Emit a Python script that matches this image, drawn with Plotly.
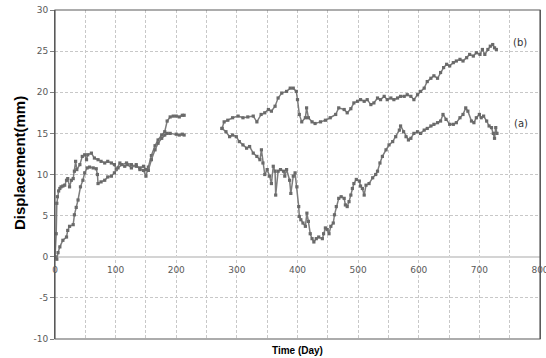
import plotly.graph_objects as go

# Series (b): first segment (days, mm)
days_b1 = [0, 2, 3, 4, 6, 8, 10, 13, 16, 19, 21, 24, 27, 30, 32, 34, 36, 41, 45, 49, 52, 54, 60, 65,
           71, 76, 82, 87, 93, 98, 101, 107, 115, 120, 126, 134, 140, 146, 150, 154, 159, 165, 170,
           176, 181, 185, 190, 195, 200, 205, 210, 213]
disp_b1 = [0, 2.8, 6.5, 7.3, 8.0, 8.3, 8.5, 8.6, 8.7, 9.3, 9.5, 8.5, 9.3, 9.5, 10.4, 11.6, 10.6, 11.2,
           12.2, 12.4, 11.8, 12.4, 12.6, 12.0, 11.8, 11.6, 11.4, 11.6, 11.4, 11.2, 10.6, 11.4, 11.0,
           11.2, 10.8, 11.2, 10.6, 10.5, 9.8, 10.9, 12.3, 13.5, 14.2, 14.8, 15.2, 16.5, 17.0, 17.1,
           17.1, 17.0, 17.2, 17.2]

# Series (b): second segment
days_b2 = [275.5, 279, 285, 293, 302, 310, 318, 327, 333, 340, 346, 352, 357, 363, 368, 374, 382,
           388, 393, 398, 400, 403, 407, 413, 415, 418, 424, 429, 438, 446, 454, 463, 468, 477, 482,
           488, 493, 499, 504, 510, 515, 521, 526, 532, 537, 543, 548, 554, 559, 565, 570, 576, 581,
           587, 592, 598, 603, 609, 614, 620, 625, 631, 636, 641, 646, 651, 657, 662, 668, 673, 679,
           684, 690, 695, 701, 705, 709, 714, 718, 722, 725, 728]
disp_b2 = [15.6, 16.4, 16.6, 16.9, 17.1, 16.9, 17.0, 17.1, 16.4, 17.3, 17.5, 17.9, 17.7, 18.3, 19.3,
           19.9, 20.1, 20.5, 20.5, 20.1, 19.1, 17.3, 16.4, 16.9, 18.1, 16.9, 16.4, 16.2, 16.4, 16.6,
           16.9, 17.3, 18.1, 17.9, 17.5, 18.0, 18.7, 18.9, 19.1, 18.9, 19.1, 18.5, 18.7, 19.3, 19.1,
           19.5, 19.1, 19.3, 19.1, 19.3, 19.5, 19.5, 19.7, 19.5, 19.1, 19.7, 20.1, 20.5, 21.3, 21.7,
           22.0, 21.7, 22.4, 23.0, 23.4, 23.2, 23.6, 23.8, 24.0, 23.8, 24.2, 24.6, 24.4, 24.8, 24.6,
           25.2, 24.6, 25.2, 25.6, 25.8, 25.4, 25.2]

# Series (a): first segment
days_a1 = [0, 3, 5, 8, 13, 19, 21, 24, 30, 32, 35, 38, 42, 46, 49, 53, 57, 63, 68, 70, 71, 76, 82,
           87, 93, 98, 104, 110, 118, 126, 134, 140, 146, 150, 154, 159, 165, 170, 176, 181, 185,
           190, 200, 205, 210, 213]
disp_a1 = [0, -0.3, 0.5, 1.2, 2.0, 2.4, 3.2, 3.7, 3.9, 5.1, 6.0, 6.9, 8.5, 9.3, 10.2, 10.8, 10.9,
           10.8, 10.7, 10.0, 8.9, 9.1, 9.3, 9.7, 9.8, 10.2, 10.8, 11.2, 11.4, 11.2, 11.0, 10.8, 11.0,
           10.6, 10.5, 11.8, 13.0, 13.8, 14.4, 14.8, 15.0, 15.0, 14.9, 14.8, 14.9, 14.8]

# Series (a): second segment
days_a2 = [275.5, 282, 288, 293, 299, 304, 310, 316, 321, 327, 333, 338, 340.5, 343, 346, 350, 354,
           357, 360, 363, 364, 368, 372, 377, 379, 382, 387, 389, 393, 396, 399, 402, 403, 405.5,
           409, 413, 415.5, 418, 421, 424, 427, 431, 435, 441, 443, 446, 449, 452, 455, 459, 461,
           464, 468, 472, 477, 479, 482, 485, 488, 490.5, 493, 497, 502, 504, 507, 510, 513, 518,
           524, 529, 532, 536, 540, 546, 551, 557, 562, 568, 570, 575, 579, 583, 587, 592, 598, 603,
           609, 614, 620, 625, 631, 636, 640, 645, 651, 657, 662, 668, 673, 677.5, 681, 687, 691,
           695, 700, 703, 707, 712, 716, 720, 723, 725, 727, 729]
disp_a2 = [15.6, 15.2, 14.6, 14.8, 14.6, 14.0, 13.6, 13.2, 13.4, 12.6, 12.2, 11.8, 13.0, 11.4, 10.0,
           10.6, 9.8, 8.9, 11.0, 10.4, 7.5, 10.4, 10.6, 10.4, 9.8, 10.6, 9.3, 7.7, 9.8, 10.2, 8.5,
           6.1, 4.9, 4.5, 4.1, 3.7, 5.3, 4.3, 2.8, 2.2, 1.8, 2.2, 2.4, 2.2, 2.8, 3.5, 3.3, 2.8, 3.7,
           4.1, 5.1, 6.1, 7.1, 7.3, 7.1, 6.3, 6.1, 6.7, 7.5, 8.3, 8.9, 9.4, 9.2, 8.6, 8.3, 7.5, 8.7,
           8.9, 9.6, 10.0, 10.4, 11.4, 12.2, 13.0, 13.6, 14.0, 14.6, 15.4, 15.9, 15.2, 14.6, 14.2,
           14.4, 15.0, 15.2, 15.0, 15.4, 15.6, 15.9, 16.1, 16.3, 16.5, 17.3, 16.7, 16.1, 16.1, 16.3,
           16.9, 17.3, 18.1, 17.7, 16.5, 16.3, 16.9, 17.3, 16.9, 17.1, 16.5, 15.9, 15.7, 15.0, 14.4,
           15.7, 15.0]

x_ticks = [0, 100, 200, 300, 400, 500, 600, 700, 800]
y_ticks = [-10, -5, 0, 5, 10, 15, 20, 25, 30]
curve_labels = [("(b)", 767, 26.0), ("(a)", 769, 16.2)]

LINE = "#7c7c7c"
MARK = "#6a6a6a"

W, H = 546, 358
L, R, T, B = 55, 6, 10, 19


def px_to_paper(x, y):
    return (x - L) / (W - L - R), 1 - (y - T) / (H - T - B)


fig = go.Figure()
for xs, ys in [(days_b1 + [None] + days_b2, disp_b1 + [None] + disp_b2),
               (days_a1 + [None] + days_a2, disp_a1 + [None] + disp_a2)]:
    fig.add_trace(go.Scatter(
        x=xs, y=ys, mode="lines+markers", connectgaps=False,
        line=dict(color=LINE, width=1.5),
        marker=dict(color=MARK, size=3.2, symbol="square"),
        showlegend=False, hoverinfo="skip"))

for txt, x, y in curve_labels:
    fig.add_annotation(x=x, y=y, xref="x", yref="y", text=txt, showarrow=False,
                       xanchor="center", yanchor="middle",
                       font=dict(family="DejaVu Sans", size=10, color="#333333"))

ax, ay = px_to_paper(20, 163)
fig.add_annotation(x=ax, y=ay, xref="paper", yref="paper", text="<b>Displacement(mm)</b>",
                   showarrow=False, textangle=-90, xanchor="center", yanchor="middle",
                   font=dict(family="Liberation Sans", size=15, color="#000000"))
ax, ay = px_to_paper(297.5, 351)
fig.add_annotation(x=ax, y=ay, xref="paper", yref="paper", text="<b>Time (Day)</b>",
                   showarrow=False, xanchor="center", yanchor="middle",
                   font=dict(family="Liberation Sans", size=10, color="#000000"))

fig.update_layout(
    width=W, height=H,
    margin=dict(l=L, r=R, t=T, b=B, autoexpand=False),
    plot_bgcolor="white", paper_bgcolor="white",
    xaxis=dict(range=[0, 800], tickvals=x_ticks, ticktext=[str(v) for v in x_ticks],
               anchor="free", position=0.25, showline=False, zeroline=False, automargin=False,
               showgrid=True, gridcolor="#c8c8c8", griddash="3px,2px", gridwidth=1,
               minor=dict(dtick=50, showgrid=True, gridcolor="#c8c8c8", griddash="3px,2px"),
               ticks="", ticklabelstandoff=6, ticklabeloverflow="allow",
               tickfont=dict(family="DejaVu Sans", size=9, color="#595959")),
    yaxis=dict(range=[-10, 30], tickvals=y_ticks, ticktext=[str(v) for v in y_ticks],
               showline=True, mirror=True, linecolor="#5a5a5a", linewidth=1,
               zeroline=True, zerolinecolor="#d4d4d4", zerolinewidth=2,
               automargin=False,
               showgrid=True, gridcolor="#c8c8c8", griddash="3px,2px", gridwidth=1,
               ticks="outside", ticklen=4, tickcolor="#808080",
               tickfont=dict(family="DejaVu Sans", size=9, color="#595959")),
    shapes=[dict(type="rect", xref="paper", yref="paper", x0=0, x1=1, y0=0, y1=1,
                 line=dict(color="#5a5a5a", width=1.2), fillcolor="rgba(0,0,0,0)")],
)

fig.write_html("out.html", config={"displayModeBar": False},
               post_script="document.body.style.margin='0';document.body.style.overflow='hidden';")
